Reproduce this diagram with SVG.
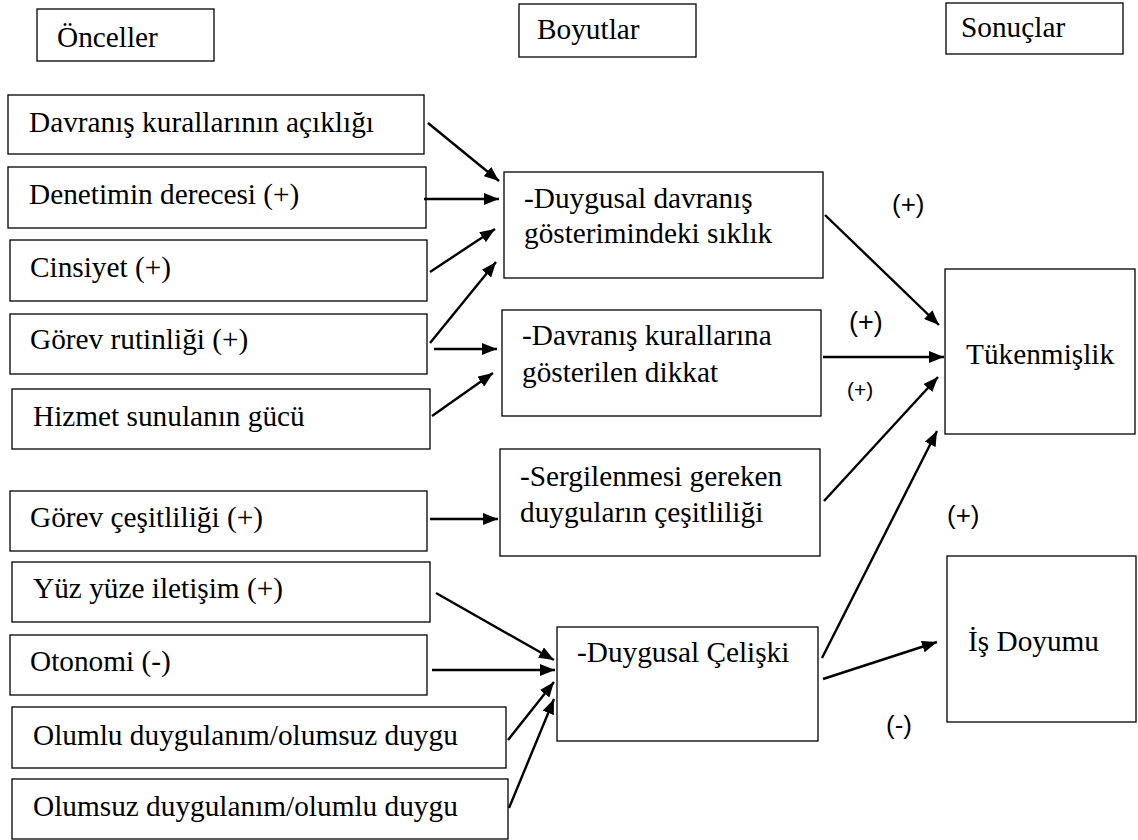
<svg xmlns="http://www.w3.org/2000/svg" width="1138" height="840" viewBox="0 0 1138 840">
<style>
.b{fill:#fff;stroke:#000;stroke-width:1.3}
.t{font-family:"Liberation Serif","Times New Roman",serif;font-size:29.3px;fill:#000}
.s{font-family:"Liberation Sans",Arial,sans-serif;font-size:26px;fill:#000}
.c line{stroke:#000;stroke-width:2.4;marker-end:url(#ah)}
</style>
<defs>
<marker id="ah" markerUnits="userSpaceOnUse" markerWidth="16" markerHeight="12" refX="15" refY="6" orient="auto">
<path d="M0,0 L15,6 L0,12 z" fill="#000"/>
</marker>
</defs>
<rect width="1138" height="840" fill="#fff"/>
<g id="onceller"><rect class="b" x="37" y="9" width="177" height="52"/><text class="t" x="57" y="47">Önceller</text></g>
<g id="boyutlar"><rect class="b" x="519" y="4" width="177" height="53"/><text class="t" x="537" y="39">Boyutlar</text></g>
<g id="sonuclar"><rect class="b" x="946" y="3" width="177" height="51"/><text class="t" x="961" y="37">Sonuçlar</text></g>

<g id="a1"><rect class="b" x="8" y="95" width="416" height="59"/><text class="t" x="29" y="132">Davranış kurallarının açıklığı</text></g>
<g id="a2"><rect class="b" x="8" y="167" width="418" height="61"/><text class="t" x="29" y="204">Denetimin derecesi (+)</text></g>
<g id="a3"><rect class="b" x="10" y="240" width="417" height="61"/><text class="t" x="30" y="277">Cinsiyet (+)</text></g>
<g id="a4"><rect class="b" x="10" y="314" width="417" height="60"/><text class="t" x="30" y="349">Görev rutinliği (+)</text></g>
<g id="a5"><rect class="b" x="12" y="389" width="418" height="60"/><text class="t" x="33" y="426">Hizmet sunulanın gücü</text></g>
<g id="a6"><rect class="b" x="10" y="491" width="417" height="60"/><text class="t" x="30" y="527">Görev çeşitliliği  (+)</text></g>
<g id="a7"><rect class="b" x="12" y="562" width="418" height="60"/><text class="t" x="33" y="598">Yüz yüze iletişim (+)</text></g>
<g id="a8"><rect class="b" x="10" y="635" width="417" height="60"/><text class="t" x="30" y="671">Otonomi (-)</text></g>
<g id="a9"><rect class="b" x="12" y="707" width="494" height="61"/><text class="t" x="33" y="745">Olumlu duygulanım/olumsuz duygu</text></g>
<g id="a10"><rect class="b" x="12" y="779" width="496" height="60"/><text class="t" x="33" y="816">Olumsuz duygulanım/olumlu duygu</text></g>

<g id="d1"><rect class="b" x="504" y="172" width="319" height="106"/><text class="t" x="524" y="208">-Duygusal davranış</text><text class="t" x="524" y="243">gösterimindeki sıklık</text></g>
<g id="d2"><rect class="b" x="502" y="310" width="319" height="106"/><text class="t" x="522" y="345">-Davranış kurallarına</text><text class="t" x="522" y="382">gösterilen dikkat</text></g>
<g id="d3"><rect class="b" x="500" y="449" width="320" height="107"/><text class="t" x="520" y="486">-Sergilenmesi gereken</text><text class="t" x="520" y="522">duyguların çeşitliliği</text></g>
<g id="d4"><rect class="b" x="557" y="627" width="261" height="114"/><text class="t" x="577" y="662">-Duygusal Çelişki</text></g>

<g id="r1"><rect class="b" x="945" y="269" width="190" height="165"/><text class="t" x="966" y="364">Tükenmişlik</text></g>
<g id="r2"><rect class="b" x="947" y="556" width="189" height="166"/><text class="t" x="968" y="651">İş Doyumu</text></g>

<g id="connectors" class="c">
<line x1="428" y1="123" x2="499" y2="181"/>
<line x1="424" y1="199" x2="499" y2="199"/>
<line x1="430" y1="272" x2="495" y2="229"/>
<line x1="430" y1="343" x2="496" y2="262"/>
<line x1="434" y1="349" x2="497" y2="349"/>
<line x1="432" y1="416" x2="493" y2="373"/>
<line x1="430" y1="519" x2="498" y2="519"/>
<line x1="436" y1="593" x2="554" y2="660"/>
<line x1="432" y1="670" x2="555" y2="670"/>
<line x1="508" y1="740" x2="554" y2="682"/>
<line x1="509" y1="808" x2="554" y2="699"/>
<line x1="825" y1="215" x2="939" y2="325"/>
<line x1="823" y1="357" x2="944" y2="357"/>
<line x1="824" y1="501" x2="938" y2="377"/>
<line x1="822" y1="658" x2="937" y2="431"/>
<line x1="823" y1="679" x2="937" y2="642"/>
</g>

<g id="labels">
<text class="s" x="892" y="213">(+)</text>
<text class="s" x="849" y="331" style="font-size:27px">(+)</text>
<text class="s" x="847" y="397" style="font-size:21px">(+)</text>
<text class="s" x="947" y="524">(+)</text>
<text class="s" x="886" y="734">(-)</text>
</g>
</svg>
